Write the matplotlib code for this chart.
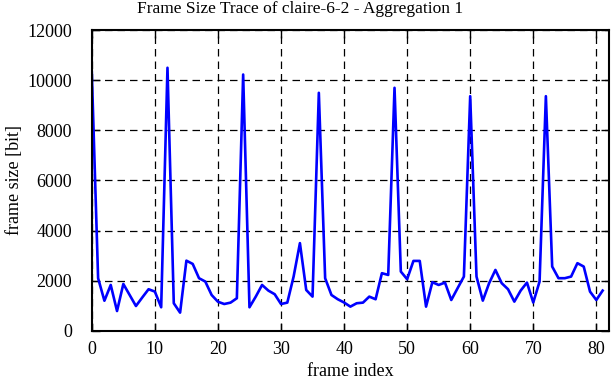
import matplotlib
matplotlib.use("Agg")
import matplotlib.pyplot as plt

# frame sizes in bit
frame_index = list(range(82))
frame_size = [
    10320, 2100, 1200, 1830, 790, 1870, 1430, 990, 1330, 1660,
    1565, 940, 10500, 1100, 725, 2800, 2670, 2100, 1965, 1430,
    1160, 1070, 1125, 1300, 10230, 940, 1365, 1830, 1605, 1460,
    1070, 1125, 2165, 3500, 1630, 1365, 9500, 2100, 1430, 1260,
    1130, 965, 1100, 1125, 1365, 1260, 2300, 2230, 9700, 2365,
    2060, 2790, 2790, 965, 1940, 1830, 1925, 1230, 1700, 2165,
    9365, 2165, 1205, 1900, 2430, 1900, 1660, 1165, 1605, 1925,
    1130, 1965, 9365, 2565, 2100, 2100, 2165, 2700, 2565, 1565,
    1230, 1605,
]
x_ticks = [0, 10, 20, 30, 40, 50, 60, 70, 80]
y_ticks = [0, 2000, 4000, 6000, 8000, 10000, 12000]

plt.rcParams["font.family"] = ["Liberation Serif", "DejaVu Serif"]
plt.rcParams["font.size"] = 13

fig = plt.figure(figsize=(6.12, 3.82), dpi=100)
ax = fig.add_axes([0.150, 0.134, 0.845, 0.787])

ax.plot(frame_index, frame_size, color="#0000ff", linewidth=1.9)

ax.set_xlim(0, 82)
ax.set_ylim(0, 12000)
ax.set_xticks(x_ticks)
ax.set_yticks(y_ticks)
ax.tick_params(direction="in", length=6, width=1, top=True, right=True)
ax.tick_params(axis="x", pad=7)
ax.tick_params(axis="y", pad=14)
ax.grid(True, color="black", linewidth=0.9, linestyle=(0, (6, 4)))
for s in ax.spines.values():
    s.set_linewidth(1.5)

ax.set_xlabel("frame index", labelpad=4)
ax.set_ylabel("frame size [bit]", labelpad=3)
fig.text(0.49, 0.997, "Frame Size Trace of claire-6-2 - Aggregation 1", ha="center", va="top", fontsize=12.5)

fig.savefig("out.png", dpi=100)
